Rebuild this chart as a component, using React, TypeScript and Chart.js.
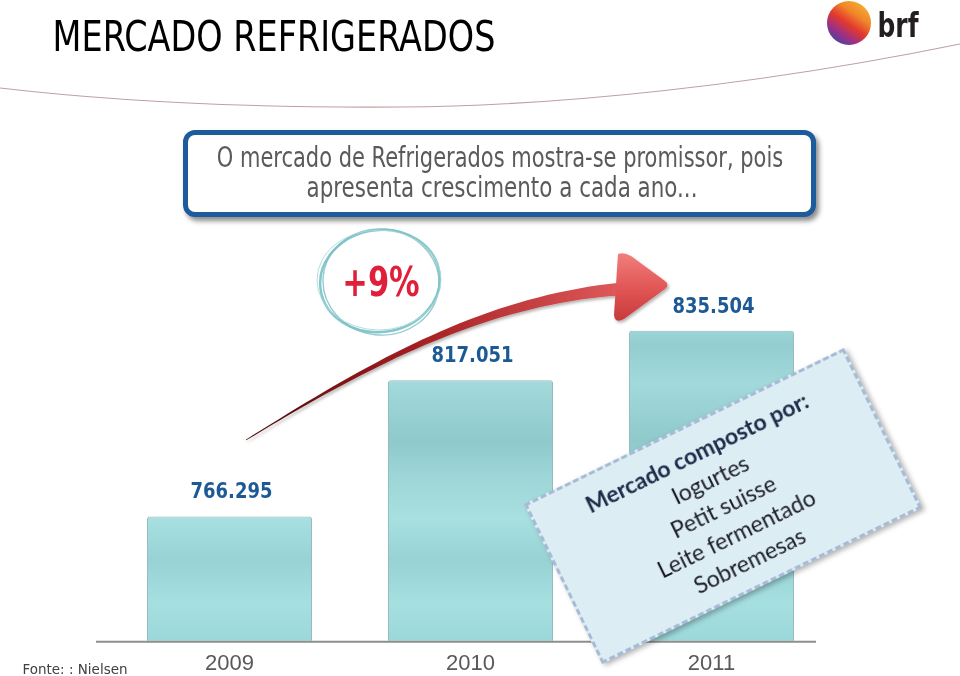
import React, { useEffect, useLayoutEffect, useRef, useState } from 'react';
import { Chart, registerables } from 'chart.js';

Chart.register(...registerables);

// ---------------- data ----------------
const years = ['2009', '2010', '2011'];
const marketValues = [766.295, 817.051, 835.504];
const valueLabels = ['766.295', '817.051', '835.504'];
const growthLabel = '+9%';
const titleText = 'MERCADO REFRIGERADOS';
const subtitleLines = [
  'O mercado de Refrigerados mostra-se promissor, pois',
  'apresenta crescimento a cada ano...',
];
const noteTitle = 'Mercado composto por:';
const noteItems = ['Iogurtes', 'Petit suisse', 'Leite fermentado', 'Sobremesas'];
const sourceText = 'Fonte: : Nielsen';
const yAxisMin = 720;
const yAxisMax = 866;

// ---------------- decoration geometry (arrow) ----------------
function cubic(p0: number[], p1: number[], p2: number[], p3: number[], t: number) {
  const u = 1 - t;
  return [
    u * u * u * p0[0] + 3 * u * u * t * p1[0] + 3 * u * t * t * p2[0] + t * t * t * p3[0],
    u * u * u * p0[1] + 3 * u * u * t * p1[1] + 3 * u * t * t * p2[1] + t * t * t * p3[1],
  ];
}
function arrowShaftPath() {
  const P0 = [246, 440], P1 = [360, 370], P2 = [480, 300], P3 = [622, 289];
  const n = 40;
  const pts: number[][] = [];
  for (let i = 0; i <= n; i++) pts.push(cubic(P0, P1, P2, P3, i / n));
  const top: number[][] = [];
  const bot: number[][] = [];
  for (let i = 0; i <= n; i++) {
    const a = pts[Math.max(0, i - 1)];
    const b = pts[Math.min(n, i + 1)];
    let dx = b[0] - a[0], dy = b[1] - a[1];
    const len = Math.hypot(dx, dy) || 1;
    dx /= len; dy /= len;
    const nx = -dy, ny = dx;
    const t = i / n;
    const w = 0.4 + 6 * Math.pow(t, 1.2);
    top.push([pts[i][0] - nx * w, pts[i][1] - ny * w]);
    bot.push([pts[i][0] + nx * w, pts[i][1] + ny * w]);
  }
  const all = top.concat(bot.reverse());
  return 'M' + all.map((p) => p[0].toFixed(1) + ',' + p[1].toFixed(1)).join(' L') + ' Z';
}
const shaftD = arrowShaftPath();

// ---------------- helpers ----------------
function FitText(props: {
  text: string; cx: number; cy: number; width: number; size: number;
  weight?: number | string; color: string; family: string;
}) {
  const ref = useRef<HTMLDivElement>(null);
  const [sx, setSx] = useState(1);
  useLayoutEffect(() => {
    if (ref.current) {
      const w = ref.current.offsetWidth;
      if (w > 0) setSx(props.width / w);
    }
  }, [props.text, props.width, props.size]);
  return (
    <div
      ref={ref}
      style={{
        position: 'absolute', left: props.cx, top: props.cy,
        transform: `translate(-50%, -50%) scaleX(${sx})`,
        whiteSpace: 'nowrap', fontSize: props.size, fontWeight: props.weight ?? 400,
        color: props.color, fontFamily: props.family, lineHeight: 1,
      }}
    >
      {props.text}
    </div>
  );
}

const overlayPlugin = {
  id: 'overlayPlugin',
  afterDatasetsDraw(chart: any) {
    const { ctx, chartArea } = chart;
    const meta = chart.getDatasetMeta(0);
    ctx.save();
    ctx.strokeStyle = '#8e8e8e';
    ctx.lineWidth = 2;
    ctx.beginPath();
    ctx.moveTo(chartArea.left - 13, chartArea.bottom + 1);
    ctx.lineTo(chartArea.right - 16, chartArea.bottom + 1);
    ctx.stroke();

    ctx.fillStyle = '#1d5a95';
    ctx.font = 'bold 22px "DejaVu Sans", Verdana, sans-serif';
    ctx.textAlign = 'center';
    ctx.textBaseline = 'middle';
    meta.data.forEach((el: any, i: number) => {
      const text = valueLabels[i];
      const w = ctx.measureText(text).width;
      const sx = 82 / w;
      ctx.save();
      ctx.translate(el.x + 2, el.y - 24);
      ctx.scale(sx, 1);
      ctx.fillText(text, 0, 0);
      ctx.restore();
    });
    ctx.restore();
  },
};

function BarChart() {
  const canvasRef = useRef<HTMLCanvasElement>(null);
  useEffect(() => {
    if (!canvasRef.current) return;
    const chart = new Chart(canvasRef.current, {
      type: 'bar',
      data: {
        labels: years,
        datasets: [
          {
            data: marketValues,
            backgroundColor: (c: any) => {
              const { ctx, chartArea } = c.chart;
              if (!chartArea) return '#9fd8da';
              const g = ctx.createLinearGradient(0, chartArea.top + 70, 0, chartArea.bottom);
              g.addColorStop(0, '#a6dddf');
              g.addColorStop(0.08, '#93cdd0');
              g.addColorStop(0.2, '#a2d9db');
              g.addColorStop(0.38, '#8fc9cc');
              g.addColorStop(0.5, '#9fd7d9');
              g.addColorStop(0.62, '#a8e0e1');
              g.addColorStop(0.75, '#98d2d4');
              g.addColorStop(0.88, '#a6dfe0');
              g.addColorStop(1, '#9cd8da');
              return g;
            },
            borderColor: '#8fb9bb',
            borderWidth: { left: 1, right: 1, top: 1, bottom: 0 },
            borderRadius: { topLeft: 3, topRight: 3, bottomLeft: 0, bottomRight: 0 },
            borderSkipped: 'bottom',
            barPercentage: 0.685,
            categoryPercentage: 1,
          } as any,
        ],
      },
      options: {
        responsive: false,
        animation: false,
        events: [],
        layout: { padding: { left: 109, right: 128, top: 249, bottom: 2.8 } },
        plugins: { legend: { display: false }, tooltip: { enabled: false } },
        scales: {
          x: {
            grid: { display: false, drawTicks: false },
            border: { display: false },
            ticks: {
              color: '#595959',
              padding: 10,
              font: { family: '"Liberation Sans", Arial, sans-serif', size: 22 },
            },
          },
          y: { display: false, min: yAxisMin, max: yAxisMax },
        },
      },
      plugins: [overlayPlugin],
    });
    return () => chart.destroy();
  }, []);
  return (
    <canvas
      ref={canvasRef}
      width={960}
      height={690}
      style={{ position: 'absolute', left: 0, top: 0, width: 960, height: 690 }}
    />
  );
}

export default function App() {
  const tahoma = '"DejaVu Sans", Verdana, sans-serif';
  return (
    <div
      style={{
        position: 'absolute', left: 0, top: 0, width: 960, height: 676,
        overflow: 'hidden', background: '#ffffff',
      }}
    >
      <svg width={960} height={676} style={{ position: 'absolute', left: 0, top: 0 }}>
        <defs>
          <linearGradient id="logoG" x1="0.85" y1="0" x2="0.15" y2="1">
            <stop offset="0" stopColor="#f8b530" />
            <stop offset="0.3" stopColor="#f0862a" />
            <stop offset="0.52" stopColor="#e3392d" />
            <stop offset="0.75" stopColor="#9a2f88" />
            <stop offset="1" stopColor="#2b4ea3" />
          </linearGradient>
          <linearGradient id="shaftG" x1="246" y1="0" x2="622" y2="0" gradientUnits="userSpaceOnUse">
            <stop offset="0" stopColor="#4a0808" />
            <stop offset="0.45" stopColor="#a41f22" />
            <stop offset="1" stopColor="#df5a5a" />
          </linearGradient>
          <linearGradient id="headG" x1="0" y1="0" x2="0" y2="1">
            <stop offset="0" stopColor="#f07f7d" />
            <stop offset="0.5" stopColor="#e25757" />
            <stop offset="1" stopColor="#c73a3c" />
          </linearGradient>
          <filter id="sh" x="-20%" y="-20%" width="140%" height="140%">
            <feDropShadow dx="1.5" dy="2" stdDeviation="1.5" floodColor="#000" floodOpacity="0.3" />
          </filter>
        </defs>
        {/* title swoosh */}
        <path d="M0,88 C120,102 250,108 400,107 C560,106 760,85 960,44" fill="none" stroke="#bfa0a0" strokeWidth={1.1} />
        {/* logo ball */}
        <circle cx={849} cy={23} r={22} fill="url(#logoG)" />
        {/* growth ellipse */}
        <ellipse cx={380} cy={281} rx={60} ry={51} transform="rotate(-8 380 281)" fill="none" stroke="#86c7cc" strokeWidth={2.5} />
        <ellipse cx={381} cy={282} rx={58} ry={53} transform="rotate(6 381 282)" fill="none" stroke="#7cbec4" strokeWidth={1.4} opacity={0.8} />
        <ellipse cx={379} cy={280} rx={62} ry={50} fill="none" stroke="#aad9dc" strokeWidth={1} opacity={0.9} />
        {/* arrow */}
        <g filter="url(#sh)">
          <path d={shaftD} fill="url(#shaftG)" />
          <path d="M618,254 Q624,252 631,256 L665,281 Q670,285 665,289 L624,319 Q615,324 614,315 Z" fill="url(#headG)" />
        </g>
      </svg>

      <BarChart />

      {/* title */}
      <FitText text={titleText} cx={273.5} cy={36} width={443} size={43} color="#000" family={tahoma} />
      <FitText text="brf" cx={898} cy={25} width={41} size={34} weight={700} color="#231f20" family={tahoma} />

      {/* subtitle box */}
      <div
        style={{
          position: 'absolute', left: 183, top: 130, width: 633, height: 87,
          boxSizing: 'border-box', border: '5px solid #1d5c9c', borderRadius: 12,
          background: '#ffffff', boxShadow: '3px 4px 5px rgba(0,0,0,0.45)',
        }}
      />
      <FitText text={subtitleLines[0]} cx={500} cy={158} width={566} size={28} color="#5a5a5a" family={tahoma} />
      <FitText text={subtitleLines[1]} cx={501.5} cy={188} width={391} size={28} color="#5a5a5a" family={tahoma} />

      {/* growth label */}
      <FitText text={growthLabel} cx={381} cy={282} width={77} size={40} weight={700} color="#e0203a" family={tahoma} />

      {/* note box */}
      <div
        style={{
          position: 'absolute', left: 723 - 178, top: 505.5 - 89, width: 356, height: 178,
          boxSizing: 'border-box', transform: 'rotate(-26deg)',
          background: '#dcedf4', border: '3px dashed #a7bbd7',
          boxShadow: '2px 3px 5px rgba(0,0,0,0.3)',
          display: 'flex', flexDirection: 'column', alignItems: 'center', justifyContent: 'center',
          fontFamily: 'Lato, "Open Sans", sans-serif', color: '#1b1b28',
        }}
      >
        <div style={{ fontWeight: 700, fontSize: 23, lineHeight: '30px', color: '#1f2a48' }}>{noteTitle}</div>
        {noteItems.map((t) => (
          <div key={t} style={{ fontSize: 23, lineHeight: '30px' }}>{t}</div>
        ))}
      </div>

      {/* source */}
      <FitText text={sourceText} cx={74.5} cy={669} width={105} size={14} color="#404040" family={tahoma} />
    </div>
  );
}
